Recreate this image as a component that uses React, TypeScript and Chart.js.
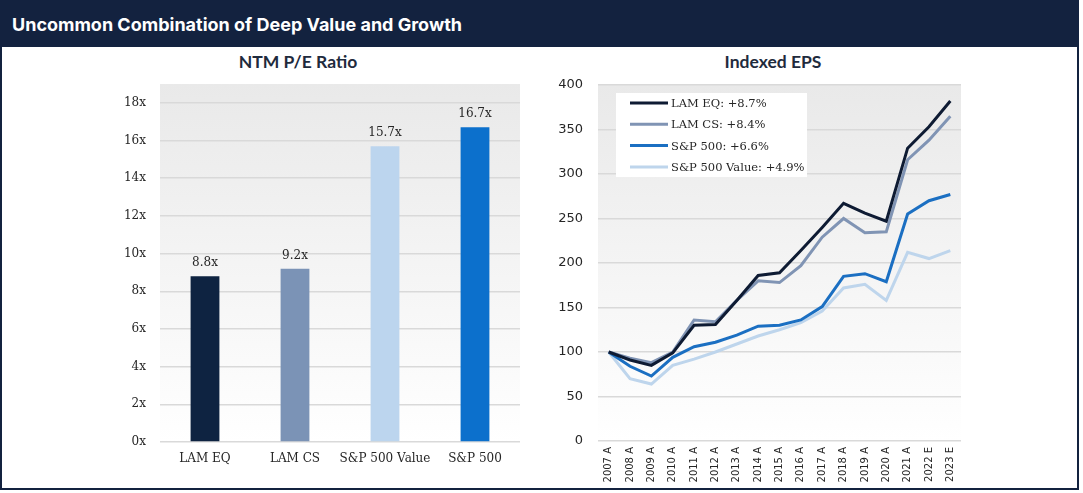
import React, { useEffect, useRef } from "react";
import { Chart, registerables } from "chart.js";
Chart.register(...registerables);

const headerTitle = "Uncommon Combination of Deep Value and Growth";
const leftTitle = "NTM P/E Ratio";
const rightTitle = "Indexed EPS";

const peCategories = ["LAM EQ", "LAM CS", "S&P 500 Value", "S&P 500"];
const peValues = [8.8, 9.2, 15.7, 16.7];
const peColors = ["#0e2341", "#7b93b6", "#bcd5ee", "#0c70cc"];

const epsYears = [
  "2007 A", "2008 A", "2009 A", "2010 A", "2011 A", "2012 A", "2013 A", "2014 A", "2015 A",
  "2016 A", "2017 A", "2018 A", "2019 A", "2020 A", "2021 A", "2022 E", "2023 E",
];
const lamEq = [100, 91, 85, 99, 130, 131, 158, 186, 189, 214, 240, 267, 256, 247, 329, 353, 382];
const lamCs = [100, 93, 88, 100, 136, 134, 158, 180, 178, 197, 229, 250, 234, 235, 316, 338, 365];
const sp500 = [100, 84, 73, 94, 106, 111, 119, 129, 130, 136, 151, 185, 188, 179, 255, 270, 277];
const spValue = [100, 70, 64, 85, 92, 100, 109, 118, 125, 133, 146, 172, 176, 158, 212, 205, 214];
const seriesNames = ["LAM EQ: +8.7%", "LAM CS: +8.4%", "S&P 500: +6.6%", "S&P 500 Value: +4.9%"];
const seriesColors = ["#0e1b33", "#8094b4", "#1b6fc2", "#bed5ec"];

const SERIF = "'DejaVu Serif', serif";
const SANS = "'DejaVu Sans', sans-serif";

const plotBg = {
  id: "plotBg",
  beforeDraw(chart: any) {
    const { ctx, chartArea: a } = chart;
    const g = ctx.createLinearGradient(0, a.top, 0, a.bottom);
    g.addColorStop(0, "#e9e9e9");
    g.addColorStop(1, "#ffffff");
    ctx.save();
    ctx.fillStyle = g;
    ctx.fillRect(a.left, a.top, a.right - a.left, a.bottom - a.top);
    ctx.restore();
  },
};

const barLabels = {
  id: "barLabels",
  afterDatasetsDraw(chart: any) {
    const { ctx } = chart;
    const meta = chart.getDatasetMeta(0);
    ctx.save();
    ctx.font = `12px ${SERIF}`;
    ctx.fillStyle = "#262626";
    ctx.textAlign = "center";
    ctx.textBaseline = "alphabetic";
    meta.data.forEach((el: any, i: number) => {
      ctx.fillText(peValues[i].toFixed(1) + "x", el.x, el.y - 10);
    });
    ctx.restore();
  },
};

const boxLegend = {
  id: "boxLegend",
  afterDraw(chart: any) {
    const { ctx, chartArea: a } = chart;
    const bx = a.left + 18;
    const by = a.top + 8;
    const bw = 191;
    const bh = 84;
    ctx.save();
    ctx.fillStyle = "#ffffff";
    ctx.fillRect(bx, by, bw, bh);
    ctx.font = `11.5px ${SERIF}`;
    ctx.textBaseline = "middle";
    ctx.textAlign = "left";
    chart.data.datasets.forEach((ds: any, i: number) => {
      const y = by + 10 + i * 21.3;
      ctx.strokeStyle = ds.borderColor;
      ctx.lineWidth = 3;
      ctx.beginPath();
      ctx.moveTo(bx + 14, y);
      ctx.lineTo(bx + 52, y);
      ctx.stroke();
      ctx.fillStyle = "#262626";
      ctx.fillText(ds.label, bx + 55, y + 1);
    });
    ctx.restore();
  },
};

const titleStyle = (centerX: number): React.CSSProperties => ({
  position: "absolute",
  left: centerX - 150 - 2,
  width: 300,
  top: 50,
  textAlign: "center",
  fontFamily: "Lato, 'Open Sans', sans-serif",
  fontWeight: 700,
  fontSize: 17.5,
  lineHeight: "20px",
  color: "#1f2b3d",
  whiteSpace: "nowrap",
});

export default function App() {
  const leftRef = useRef<HTMLCanvasElement>(null);
  const rightRef = useRef<HTMLCanvasElement>(null);

  useEffect(() => {
    const left = new Chart(leftRef.current!, {
      type: "bar",
      data: {
        labels: peCategories,
        datasets: [
          {
            data: peValues,
            backgroundColor: peColors,
            barPercentage: 0.32,
            categoryPercentage: 1,
          },
        ],
      },
      options: {
        animation: false,
        responsive: false,
        maintainAspectRatio: false,
        layout: { padding: { top: 36, right: 20, left: 0, bottom: 0 } },
        plugins: { legend: { display: false }, tooltip: { enabled: false }, title: { display: false } },
        scales: {
          x: {
            grid: { display: false, drawTicks: false },
            border: { display: false },
            ticks: {
              color: "#262626",
              font: { family: SERIF, size: 12 },
              padding: 10,
              maxRotation: 0,
              minRotation: 0,
              autoSkip: false,
            },
            afterFit: (s: any) => {
              s.height = 46;
            },
          },
          y: {
            min: 0,
            max: 19,
            grid: { color: "#d9d9d9", lineWidth: 1.5, drawTicks: false },
            border: { display: false },
            ticks: {
              stepSize: 2,
              color: "#262626",
              font: { family: SERIF, size: 12 },
              padding: 14,
              callback: (v: any) => v + "x",
            },
            afterBuildTicks: (axis: any) => {
              axis.ticks = axis.ticks.filter((t: any) => t.value % 2 === 0);
            },
            afterFit: (s: any) => {
              s.width = 158;
            },
          },
        },
      },
      plugins: [plotBg, barLabels],
    });

    const seriesData = [lamEq, lamCs, sp500, spValue];
    const right = new Chart(rightRef.current!, {
      type: "line",
      data: {
        labels: epsYears,
        datasets: seriesData.map((d, i) => ({
          label: seriesNames[i],
          data: d,
          borderColor: seriesColors[i],
          backgroundColor: seriesColors[i],
          borderWidth: 3,
          pointRadius: 0,
          tension: 0,
          fill: false,
        })),
      },
      options: {
        animation: false,
        responsive: false,
        maintainAspectRatio: false,
        layout: { padding: { top: 37, right: 116, left: 0, bottom: 0 } },
        plugins: { legend: { display: false }, tooltip: { enabled: false }, title: { display: false } },
        scales: {
          x: {
            offset: true,
            grid: { display: false, drawTicks: false },
            border: { display: false },
            ticks: {
              autoSkip: false,
              maxRotation: 90,
              minRotation: 90,
              color: "#262626",
              font: { family: SANS, size: 10 },
              padding: 6,
            },
            afterFit: (s: any) => {
              s.height = 47;
            },
          },
          y: {
            min: 0,
            max: 400,
            grid: { color: "#d9d9d9", lineWidth: 1.5, drawTicks: false },
            border: { display: false },
            ticks: {
              stepSize: 50,
              color: "#262626",
              font: { family: SANS, size: 13 },
              padding: 15,
            },
            afterFit: (s: any) => {
              s.width = 56;
            },
          },
        },
      },
      plugins: [plotBg, boxLegend],
    });

    return () => {
      left.destroy();
      right.destroy();
    };
  }, []);

  return (
    <div
      style={{
        position: "absolute",
        left: 0,
        top: 0,
        width: 1079,
        height: 490,
        boxSizing: "border-box",
        border: "2px solid #13223f",
        background: "#ffffff",
        overflow: "hidden",
      }}
    >
      <div
        style={{
          position: "absolute",
          left: 0,
          top: 0,
          width: 1075,
          height: 45,
          background: "#13223f",
        }}
      >
        <div
          style={{
            position: "absolute",
            left: 10,
            top: 0,
            height: 45,
            lineHeight: "45px",
            color: "#ffffff",
            fontFamily: "Inter, 'Noto Sans', sans-serif",
            fontWeight: 700,
            fontSize: 18,
            whiteSpace: "nowrap",
          }}
        >
          {headerTitle}
        </div>
      </div>
      <div style={titleStyle(298)}>{leftTitle}</div>
      <div style={titleStyle(773)}>{rightTitle}</div>
      <canvas
        ref={leftRef}
        width={538}
        height={440}
        style={{ position: "absolute", left: 0, top: 46, width: 538, height: 440 }}
      />
      <canvas
        ref={rightRef}
        width={535}
        height={440}
        style={{ position: "absolute", left: 540, top: 46, width: 535, height: 440 }}
      />
    </div>
  );
}
